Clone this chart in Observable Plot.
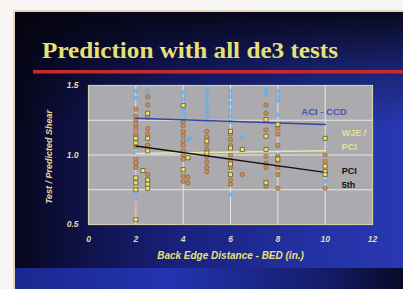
<!DOCTYPE html>
<html><head><meta charset="utf-8">
<script src="https://cdn.jsdelivr.net/npm/d3@7"></script>
<script src="https://cdn.jsdelivr.net/npm/@observablehq/plot@0.6"></script>
<style>
html,body{margin:0;padding:0;background:#f7f6f4;}
#wrap{position:relative;width:403px;height:289px;overflow:hidden;}
#slide{position:absolute;left:13px;top:10px;width:390px;height:279px;border-left:2px solid #e6d6bd;border-top:2px solid #e6d6bd;box-sizing:border-box;
background: linear-gradient(to bottom, rgba(4,4,14,0.9) 0%, rgba(4,4,14,0.35) 22%, rgba(0,0,0,0) 42%), linear-gradient(to right, #06061a 0%, #0c0d36 10%, #18207a 40%, #2432a6 80%, #2838b0 100%);}
#band{position:absolute;left:15px;top:268px;width:388px;height:21px;background:linear-gradient(to right,#1a2890,#2234b0 40%,#141c6a 80%,#080a24);}
#deco{position:absolute;left:0;top:0;}
#chart{position:absolute;left:0;top:0;}
</style></head><body>
<div id="wrap">
<div id="slide"></div><div id="band"></div>
<svg id="deco" width="403" height="289">
<text x="42" y="58" font-family="Liberation Serif, serif" font-weight="bold" font-size="24" fill="#e6e07a" textLength="296" lengthAdjust="spacingAndGlyphs">Prediction with all de3 tests</text>
<rect x="33" y="70" width="370" height="3.5" fill="#c62a30"/>
</svg>
<div id="chart"></div>
</div>
<script>
const xTicks = [0, 2, 4, 6, 8, 10, 12];
const yTicks = [0.5, 1.0, 1.5];
const xGrid = [2, 4, 6, 8, 10];
const yGrid = [0.75, 1.0, 1.25];
const xTitle = "Back Edge Distance - BED (in.)";
const yTitle = "Test / Predicted Shear";

const yellowX = [2,2,2,2,2,2, 2.5,2.5,2.5,2.5,2.5,2.5, 2.3, 4,4,4.2, 5,5, 6,6,6,6, 6.5, 7.5,7.5,7.5,7.5, 8,8, 10,10,10,10];
const yellowY = [1.087,1.12,0.835,0.80,0.75,0.535, 1.30,1.12,1.03,0.82,0.79,0.76, 0.888, 1.356,0.895,0.98, 1.015,1.10, 1.17,1.05,0.935,0.86, 1.04, 1.255,1.135,1.04,0.80, 1.22,0.97, 1.12,0.92,0.88,0.86];

const orangeX = [2,2,2,2,2,2,2,2,2,2, 2.5,2.5,2.5,2.5,2.5,2.5,2.5, 4,4,4,4,4,4,4,4,4,4,4, 4.2,4.2, 5,5,5,5,5,5,5,5, 6,6,6,6,6,6,6,6, 6.5, 7.5,7.5,7.5,7.5,7.5,7.5,7.5, 8,8,8,8,8,8,8,8, 10,10,10];
const orangeY = [1.33,1.28,1.25,1.22,1.19,1.15,1.06,0.97,0.94,0.91, 1.42,1.36,1.27,1.19,1.15,1.07,0.86, 1.24,1.21,1.17,1.14,1.10,1.07,1.03,1.00,0.97,0.85,0.81, 0.84,0.80, 1.17,1.13,1.08,1.04,0.99,0.95,0.91,0.88, 1.15,1.11,1.07,1.00,0.96,0.91,0.82,0.79, 0.86, 1.36,1.30,1.18,0.99,0.94,0.91,0.775, 1.19,1.15,1.07,0.99,0.955,0.91,0.86,0.76, 1.0,0.955,0.76];

const blueX = [2,2,2,2,2, 2.5,2.5, 4,4,4,4,4,4.2,4.3, 5,5,5,5,5,5, 6,6,6,6,6,6,6, 6.5, 7.5,7.5, 8,8,8,8,8, 10];
const blueY = [1.46,1.41,1.016,0.715,0.68, 1.46,1.41, 1.45,1.40,1.33,1.30,1.27,1.11,1.12, 1.47,1.43,1.39,1.35,1.31,1.27, 1.46,1.42,1.37,1.32,1.28,1.24,0.715, 1.13, 1.47,1.44, 1.46,1.42,1.39,1.29,1.05, 0.81];

const pinkX = [2,2,2];
const pinkY = [0.66,0.63,0.59];

const trendX = [2, 10];
const aciY = [1.265, 1.22];
const wjeY = [1.01, 1.03];
const pci5Y = [1.065, 0.875];

const aciLabel = ["ACI - CCD"], aciLabelX = [9.95], aciLabelY = [1.308];
const wjeLabel = ["WJE /", "PCI"], wjeLabelX = [10.7, 10.7], wjeLabelY = [1.155, 1.054];
const pciLabel = ["PCI", "5th"], pciLabelX = [10.7, 10.7], pciLabelY = [0.883, 0.78];

const pts = (xs, ys) => xs.map((x, i) => ({x, y: ys[i]}));
const labs = (t, xs, ys) => t.map((s, i) => ({t: s, x: xs[i], y: ys[i]}));
const font = "Liberation Sans, Arial, sans-serif";

const chart = Plot.plot({
  width: 403, height: 289,
  marginLeft: 88, marginRight: 31, marginTop: 85, marginBottom: 65,
  style: {background: "transparent", overflow: "visible", fontFamily: font},
  x: {domain: [0, 12]},
  y: {domain: [0.5, 1.5]},
  marks: [
    Plot.frame({fill: "#abaaae", stroke: "#d6d2a8", strokeWidth: 1.2}),
    Plot.gridX(xGrid, {stroke: "#eeeeee", strokeOpacity: 0.9, strokeWidth: 1}),
    Plot.gridY(yGrid, {stroke: "#eeeeee", strokeOpacity: 0.9, strokeWidth: 1}),
    Plot.axisX({ticks: xTicks, tickSize: 0, tickPadding: 11, label: null, color: "#e2dcae", fontSize: 8.5, fontWeight: "bold", fontStyle: "italic"}),
    Plot.axisY({ticks: yTicks, tickSize: 0, tickPadding: 10, label: null, tickFormat: d3.format(".1f"), color: "#e2dcae", fontSize: 8.5, fontWeight: "bold", fontStyle: "italic"}),
    Plot.dot(pts(blueX, blueY), {x: "x", y: "y", r: 2.3, fill: "#68aee6", fillOpacity: 0.8}),
    Plot.dot(pts(orangeX, orangeY), {x: "x", y: "y", r: 2.2, fill: "#c88a50", stroke: "#8a5a30", strokeWidth: 0.6, fillOpacity: 0.9}),
    Plot.dot(pts(pinkX, pinkY), {x: "x", y: "y", r: 2.2, fill: "#d8a8a8", fillOpacity: 0.9}),
    Plot.line(pts(trendX, aciY), {x: "x", y: "y", stroke: "#3b44a0", strokeWidth: 1.5}),
    Plot.line(pts(trendX, wjeY), {x: "x", y: "y", stroke: "#ece6a4", strokeWidth: 1.5}),
    Plot.line(pts(trendX, pci5Y), {x: "x", y: "y", stroke: "#111111", strokeWidth: 1.5}),
    Plot.dot(pts(yellowX, yellowY), {x: "x", y: "y", symbol: "square", r: 2.3, fill: "#f2e66a", stroke: "#5a5a30", strokeWidth: 0.8}),
    Plot.text(labs(aciLabel, aciLabelX, aciLabelY), {x: "x", y: "y", text: "t", fill: "#4652b4", fontSize: 9.5, fontWeight: "bold", textAnchor: "middle"}),
    Plot.text(labs(wjeLabel, wjeLabelX, wjeLabelY), {x: "x", y: "y", text: "t", fill: "#e6e0a0", fontSize: 9, fontWeight: "bold", textAnchor: "start"}),
    Plot.text(labs(pciLabel, pciLabelX, pciLabelY), {x: "x", y: "y", text: "t", fill: "#111111", fontSize: 9, fontWeight: "bold", textAnchor: "start"}),
    Plot.text([xTitle], {text: d => d, frameAnchor: "bottom", dy: 31, lineAnchor: "middle", textAnchor: "middle", fill: "#e8e27a", fontSize: 10, fontWeight: "bold", fontStyle: "italic"}),
    Plot.text([yTitle], {text: d => d, frameAnchor: "left", dx: -39, dy: 2, rotate: -90, textAnchor: "middle", lineAnchor: "middle", fill: "#e2dc9a", fontSize: 9, fontWeight: "bold", fontStyle: "italic"})
  ]
});
document.getElementById("chart").appendChild(chart);
</script>
</body></html>
